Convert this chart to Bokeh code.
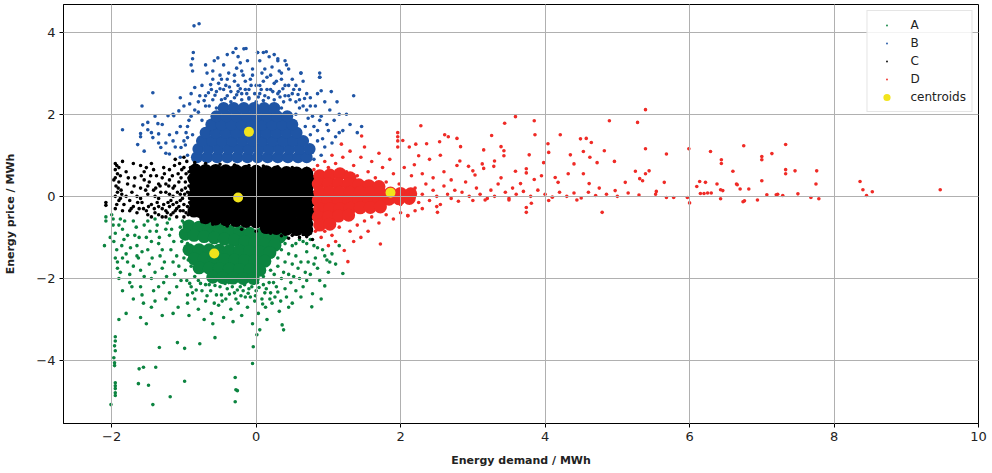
from bokeh.plotting import figure
from bokeh.models import FixedTicker, Legend, LegendItem, Range1d
from bokeh.embed import file_html
from bokeh.resources import INLINE

# ---------------- data ----------------
x_ticks = [-2, 0, 2, 4, 6, 8, 10]
x_tick_labels = ["\u22122", "0", "2", "4", "6", "8", "10"]
y_ticks = [-4, -2, 0, 2, 4]
y_tick_labels = ["\u22124", "\u22122", "0", "2", "4"]
cluster_names = ["A", "B", "C", "D"]

centroid_x = [-0.58, -0.10, -0.25, 1.86]
centroid_y = [-1.39, 1.57, -0.03, 0.09]

# densest part of each cluster
A_core = [(-0.93,-0.72),(-0.79,-0.75),(-0.65,-0.78),(-0.51,-0.81),(-0.37,-0.84),(-0.23,-0.87),(-0.09,-0.9),(0.05,-0.93),(0.19,-0.96),(0.33,-0.99),
          (-0.98,-0.92),(-0.86,-0.95),(-0.72,-0.98),(-0.58,-1.01),(-0.44,-1.04),(-0.3,-1.07),(-0.16,-1.1),(-0.02,-1.13),(0.12,-1.16),(0.26,-1.19),
          (-0.93,-1.3),(-0.79,-1.3),(-0.65,-1.3),(-0.51,-1.31),(-0.37,-1.32),(-0.23,-1.33),(-0.09,-1.34),(0.05,-1.35),(0.19,-1.37),
          (-0.86,-1.52),(-0.72,-1.52),(-0.58,-1.53),(-0.44,-1.54),(-0.3,-1.55),(-0.16,-1.56),(-0.02,-1.57),(0.12,-1.58),
          (-0.79,-1.74),(-0.65,-1.75),(-0.51,-1.76),(-0.37,-1.77),(-0.23,-1.78),(-0.09,-1.79),(0.05,-1.8),
          (-0.6,-1.97),(-0.46,-1.98),(-0.32,-1.99),(-0.18,-2.0),(-0.04,-2.0)]
B_core = [(-0.82,0.95),(-0.68,0.95),(-0.54,0.95),(-0.4,0.95),(-0.26,0.95),(-0.12,0.95),(0.02,0.95),(0.16,0.95),(0.3,0.95),(0.44,0.95),(0.58,0.95),(0.7,0.95),
          (-0.8,1.15),(-0.66,1.15),(-0.52,1.15),(-0.38,1.15),(-0.24,1.15),(-0.1,1.15),(0.04,1.15),(0.18,1.15),(0.32,1.15),(0.46,1.15),(0.6,1.15),(0.74,1.15),
          (-0.75,1.35),(-0.61,1.35),(-0.47,1.35),(-0.33,1.35),(-0.19,1.35),(-0.05,1.35),(0.09,1.35),(0.23,1.35),(0.37,1.35),(0.51,1.35),(0.65,1.35),
          (-0.7,1.55),(-0.56,1.55),(-0.42,1.55),(-0.28,1.55),(-0.14,1.55),(0.0,1.55),(0.14,1.55),(0.28,1.55),(0.42,1.55),(0.56,1.55),
          (-0.62,1.75),(-0.48,1.75),(-0.34,1.75),(-0.2,1.75),(-0.06,1.75),(0.08,1.75),(0.22,1.75),(0.36,1.75),(0.5,1.75),
          (-0.55,1.95),(-0.41,1.95),(-0.27,1.95),(-0.13,1.95),(0.01,1.95),(0.15,1.95),(0.29,1.95),(0.43,1.95),
          (-0.45,2.15),(-0.31,2.15),(-0.17,2.15),(-0.03,2.15),(0.11,2.15),(0.25,2.15)]
C_core = [(-0.84,0.64),(-0.7,0.63),(-0.56,0.63),(-0.42,0.62),(-0.28,0.62),(-0.14,0.61),(0.0,0.61),(0.14,0.6),(0.28,0.59),(0.42,0.58),(0.56,0.57),(0.7,0.56),
          (-0.86,0.43),(-0.77,0.42),(-0.63,0.42),(-0.49,0.42),(-0.35,0.42),(-0.21,0.41),(-0.07,0.41),(0.07,0.41),(0.21,0.4),(0.35,0.4),(0.49,0.39),(0.63,0.39),(0.76,0.38),
          (-0.84,0.22),(-0.7,0.22),(-0.56,0.22),(-0.42,0.22),(-0.28,0.21),(-0.14,0.21),(0.0,0.21),(0.14,0.2),(0.28,0.2),(0.42,0.2),(0.56,0.2),(0.7,0.19),
          (-0.86,0.02),(-0.77,0.02),(-0.63,0.02),(-0.49,0.02),(-0.35,0.01),(-0.21,0.01),(-0.07,0.01),(0.07,0.0),(0.21,0.0),(0.35,0.0),(0.49,0.0),(0.63,-0.01),(0.76,-0.01),
          (-0.84,-0.18),(-0.7,-0.18),(-0.56,-0.18),(-0.42,-0.19),(-0.28,-0.19),(-0.14,-0.19),(0.0,-0.2),(0.14,-0.2),(0.28,-0.2),(0.42,-0.21),(0.56,-0.21),(0.7,-0.21),
          (-0.86,-0.36),(-0.77,-0.37),(-0.63,-0.38),(-0.49,-0.39),(-0.35,-0.39),(-0.21,-0.4),(-0.07,-0.4),(0.07,-0.41),(0.21,-0.41),(0.35,-0.42),(0.49,-0.42),(0.63,-0.43),(0.76,-0.43),
          (-0.7,-0.52),(-0.56,-0.55),(-0.42,-0.57),(-0.28,-0.59),(-0.14,-0.61),(0.0,-0.62),(0.14,-0.63),(0.28,-0.64),(0.42,-0.65),(0.56,-0.66),(0.7,-0.67),
          (0.14,-0.76),(0.28,-0.78),(0.42,-0.8),(0.56,-0.81),(0.7,-0.82)]
D_core = [(0.88,0.5),(1.02,0.52),(1.16,0.55),(1.3,0.45),
          (0.86,0.3),(1.0,0.3),(1.14,0.31),(1.28,0.3),(1.42,0.28),(1.56,0.26),(1.7,0.24),
          (0.88,0.1),(1.02,0.1),(1.16,0.1),(1.3,0.1),(1.44,0.1),(1.58,0.09),(1.72,0.08),(1.86,0.08),(2.0,0.07),(2.14,0.06),
          (0.86,-0.1),(1.0,-0.1),(1.14,-0.1),(1.28,-0.1),(1.42,-0.1),(1.56,-0.09),(1.7,-0.08),(1.84,-0.07),(1.98,-0.06),(2.12,-0.05),
          (0.88,-0.3),(1.02,-0.3),(1.16,-0.3),(1.3,-0.29),(1.44,-0.28),(1.58,-0.27),(1.72,-0.26),
          (0.86,-0.5),(1.0,-0.5),(1.14,-0.48),(1.28,-0.46),
          (0.88,-0.7),(1.02,-0.68)]

# individual scattered points of each cluster
A_pts = [(-2.08,-0.5),(-2.08,-0.6),(-2.1,-1.2),(-2.0,-0.45),(-1.98,-0.7),(-1.95,-0.9),(-1.97,-1.1),(-1.93,-1.3),(-1.95,-1.5),(-1.92,-1.75),(-1.9,-2.0),
         (-1.88,-0.55),(-1.85,-0.8),(-1.83,-1.05),(-1.8,-1.4),(-1.78,-1.6),(-1.75,-1.9),(-1.72,-2.2),(-1.7,-0.6),(-1.68,-0.95),(-1.65,-1.2),(-1.63,-1.5),
         (-1.6,-1.8),(-1.58,-2.4),(-1.56,-2.6),(-1.55,-0.7),(-1.52,-1.0),(-1.5,-1.3),(-1.48,-1.65),(-1.45,-2.0),(-1.42,-2.3),(-1.4,-0.55),(-1.38,-0.85),
         (-1.35,-1.15),(-1.33,-1.45),(-1.3,-1.75),(-1.28,-2.1),(-1.25,-2.5),(-1.23,-0.65),(-1.2,-0.95),(-1.18,-1.3),(-1.15,-1.6),(-1.13,-1.9),(-1.1,-2.2),
         (-1.08,-2.7),(-1.05,-0.75),(-1.03,-1.1),(-1.0,-1.5),(-0.98,-1.8),(-0.96,-2.05),(-0.95,-2.4),(-0.93,-2.9),(-1.15,-2.85),(-1.3,-2.9),(-1.45,-2.7),
         (-1.7,-2.5),(-1.85,-2.3),(-1.6,-2.95),(-1.52,-3.1),(-1.8,-2.85),(-1.9,-3.0),
         (-1.95,-3.42),(-1.95,-3.52),(-1.96,-3.64),(-1.95,-3.76),(-1.97,-3.93),(-1.96,-4.05),(-1.96,-4.12),(-1.95,-4.54),(-1.95,-4.61),(-1.95,-4.68),
         (-1.95,-4.78),(-1.95,-4.85),(-2.01,-5.07),(-1.62,-4.2),(-1.56,-4.16),(-1.39,-4.16),(-1.63,-4.56),(-1.49,-4.6),(-1.43,-5.07),(-1.19,-4.88),
         (-0.99,-4.5),(-1.34,-3.68),(-1.09,-3.56),(-0.99,-3.7),(-0.78,-3.59),(-0.57,-3.44),(-0.29,-4.41),(-0.28,-4.71),(-0.26,-4.73),(-0.29,-5.0),
         (-0.05,-4.07),(-0.04,-3.66),(0.01,-3.37),
         (-0.9,-2.2),(-0.85,-2.5),(-0.8,-2.75),(-0.75,-2.3),(-0.72,-3.0),(-0.7,-2.55),(-0.65,-2.15),(-0.62,-2.85),(-0.6,-3.1),(-0.55,-2.4),(-0.52,-2.65),
         (-0.5,-2.2),(-0.45,-2.95),(-0.42,-2.5),(-0.4,-2.25),(-0.35,-2.75),(-0.32,-3.05),(-0.3,-2.35),(-0.25,-2.6),(-0.22,-2.2),(-0.2,-2.9),(-0.15,-2.45),
         (-0.12,-2.7),(-0.1,-2.25),(-0.05,-3.1),(-0.02,-2.55),(0.0,-2.3),(0.03,-2.85),(0.05,-3.25),(0.08,-2.5),(0.1,-2.15),(0.13,-2.7),(0.15,-3.0),
         (0.2,-2.35),(0.22,-2.6),(0.28,-2.2),(0.32,-2.8),(0.36,-3.13),(0.38,-3.25),(0.42,-2.45),(0.48,-2.1),(0.5,-2.6),
         (0.35,-1.3),(0.4,-1.6),(0.45,-1.9),(0.5,-1.2),(0.55,-1.45),(0.58,-1.75),(0.6,-2.0),(0.65,-2.2),(0.65,-1.1),(0.7,-1.35),(0.72,-1.6),(0.75,-1.9),
         (0.78,-2.37),(0.77,-2.69),(0.8,-1.2),(0.82,-1.5),(0.85,-1.75),(0.88,-2.05),(0.9,-2.5),(0.95,-2.18),(0.92,-1.3),(0.98,-1.55),(1.0,-1.85),
         (1.05,-1.4),(1.1,-1.65),(1.2,-1.88),(1.15,-1.2),(0.6,-1.05),(0.75,-1.05),(0.3,-1.7),(0.25,-1.9),(0.35,-2.0),
         (-1.0,-0.65),(-0.95,-1.15),(-0.9,-1.7),(-0.85,-1.95),(0.3,-1.5),(0.4,-1.15),(0.2,-1.8),(0.1,-1.95),(-0.3,-2.05),(-0.6,-2.0),(-0.8,-2.05),
         (-1.98,-0.55),(-1.9,-0.7),(-1.86,-1.2),(-1.82,-0.6),(-1.78,-0.95),(-1.74,-1.25),(-1.7,-1.7),(-1.66,-0.75),(-1.62,-1.0),(-1.58,-1.35),
         (-1.55,-1.95),(-1.5,-0.6),(-1.47,-0.85),(-1.44,-1.5),(-1.4,-1.85),(-1.37,-0.7),(-1.34,-1.0),(-1.3,-1.3),(-1.27,-1.6),(-1.24,-1.95),
         (-1.2,-0.55),(-1.17,-0.8),(-1.14,-1.1),(-1.1,-1.45),(-1.07,-1.7),(-1.04,-2.05),(-1.02,-0.6),(-0.99,-0.85),(-0.97,-1.3),(-0.94,-1.55),
         (-1.4,-2.55),(-1.2,-2.35),(-1.6,-2.2),(-1.75,-2.1),(-1.35,-2.2),(-1.92,-1.6),(-1.88,-1.85),(-2.02,-1.0),(-1.25,-0.8),(-1.45,-1.1),
         (-1.65,-1.45),(-1.85,-1.5),
         (-0.95,-2.6),(-0.88,-2.35),(-0.7,-2.15),(-0.58,-2.6),(-0.48,-2.4),(-0.38,-2.1),(-0.28,-2.5),(-0.18,-2.3),(-0.08,-2.45),(0.02,-2.1),
         (0.12,-2.35),(0.18,-2.1),(0.26,-2.45),(0.4,-2.25),(0.55,-2.3),(0.62,-1.6),(0.68,-1.85),(0.5,-1.65),(0.45,-1.4),(0.55,-1.15),(0.42,-1.0),
         (0.7,-1.15),(0.85,-1.25),(0.95,-1.45),
         (-0.92,-2.12),(-0.83,-2.28),(-0.77,-2.12),(-0.68,-2.42),(-0.63,-2.3),(-0.57,-2.17),(-0.47,-2.55),(-0.43,-2.12),(-0.37,-2.38),(-0.33,-2.2),
         (-0.26,-2.28),(-0.21,-2.42),(-0.16,-2.15),(-0.11,-2.36),(-0.06,-2.2),(-0.01,-2.42),(0.04,-2.22),(0.09,-2.62),(0.14,-2.25),(0.19,-2.5),
         (0.24,-2.1),(0.3,-2.33),(0.34,-2.55),(0.38,-1.85),(0.45,-2.7),(0.52,-1.95),(0.62,-2.45),(0.7,-2.05),(0.8,-1.65),(1.02,-1.6)]
B_pts = [(-0.86,4.15),(-0.79,4.2),(-1.43,2.52),(-1.58,2.2),(-1.85,1.62),(-1.6,1.45),(-1.55,1.1),(-1.45,1.55),(-1.4,1.95),(-1.35,1.3),(-1.3,1.75),
         (-1.25,1.05),(-1.2,1.5),(-1.15,2.0),(-1.12,1.2),(-1.05,1.7),(-1.0,2.2),(-1.0,1.35),(-0.95,1.0),(-0.93,1.85),(-0.9,2.5),(-0.88,1.5),
         (-0.8,2.3),(-0.75,2.7),(-0.7,2.45),(-0.68,3.0),(-0.65,2.2),(-0.6,2.85),(-0.58,3.3),(-0.55,2.55),(-0.5,2.95),(-0.48,2.35),(-0.45,3.2),
         (-0.42,2.7),(-0.4,2.45),(-0.38,3.0),(-0.35,2.3),(-0.32,3.5),(-0.3,2.8),(-0.28,3.6),(-0.25,2.55),(-0.22,3.25),(-0.2,2.35),(-0.18,2.95),
         (-0.15,2.6),(-0.12,3.3),(-0.1,2.4),(-0.08,2.85),(-0.05,3.1),(-0.02,2.5),(0.0,2.3),(0.02,3.5),(0.05,2.7),(0.08,3.0),(0.1,3.5),(0.12,2.45),
         (0.15,2.9),(0.18,3.4),(0.2,2.6),(0.22,3.15),(0.25,2.35),(0.28,2.8),(0.3,3.3),(0.32,2.55),(0.35,3.0),(0.38,2.3),(0.4,2.7),(0.42,3.2),
         (0.45,2.45),(0.5,2.85),(0.55,2.3),(0.6,2.6),(0.62,3.0),(0.65,2.2),(0.7,2.5),(0.72,1.9),(0.75,2.2),(0.8,1.7),(0.85,2.5),(0.88,2.9),
         (0.88,3.0),(0.9,1.95),(0.95,2.3),(1.0,1.6),(1.04,2.55),(1.08,1.85),(1.12,2.3),(1.15,1.55),(1.2,1.6),(1.25,2.0),(1.3,1.75),(1.35,2.45),
         (1.46,1.7),(1.4,1.55),(0.95,1.2),(0.9,1.0),(0.85,1.35),(0.8,0.9),(1.05,1.3),
         (-0.87,3.5),(-0.88,3.35),(-0.9,3.2),(-0.88,3.05),(-0.53,3.37),(-0.17,3.59),(-0.14,3.6),(0.02,3.5),(0.14,3.52),(0.3,3.35),(0.4,3.3),
         (0.62,3.0),(0.88,2.9),(0.9,2.57),(-1.07,2.08),(-1.14,1.96),(-1.22,1.96),(-1.36,1.77),(-1.5,1.8),(-1.57,1.74),(-1.5,1.62),(-1.43,1.43),
         (-1.64,1.26),(-1.6,1.53),(-1.35,1.52),(-1.32,1.19),(-1.2,1.03),(-1.04,1.19),(-0.95,1.43),
         (-0.85,2.1),(-0.9,1.95),(-0.78,2.45),(-0.6,2.35),(-0.3,2.4),(-0.1,2.37),(0.1,2.33),(0.35,2.15),(0.55,2.0),(0.68,1.7),(0.75,1.5),
         (-0.85,2.65),(-0.8,2.05),(-0.75,1.85),(-0.7,2.2),(-0.62,2.6),(-0.55,2.15),(-0.52,2.75),(-0.45,2.6),(-0.4,2.85),(-0.35,2.55),(-0.3,2.95),
         (-0.25,2.7),(-0.2,3.05),(-0.15,2.8),(-0.1,2.6),(-0.05,2.95),(0.0,2.7),(0.05,2.5),(0.1,2.8),(0.15,2.6),(0.2,2.95),(0.25,2.75),(0.3,2.5),
         (0.35,2.85),(0.4,2.45),(0.45,2.7),(0.5,2.5),(0.55,2.7),(0.6,2.35),(0.65,2.8),(0.7,2.1),(0.75,2.4),(0.78,1.95),(0.82,2.2),(0.85,1.6),
         (0.88,1.85),(0.92,1.4),(0.98,1.75),(1.02,2.1),(1.1,1.45),(1.15,2.0),(-0.95,1.7),(-0.98,1.25),(-1.1,1.55),(-1.15,1.35),(-1.05,0.95),
         (-0.92,2.25),(-0.97,1.55),(-1.25,1.3),(-1.05,2.4),(-0.7,3.2),(-0.4,3.45),(0.25,3.45),(0.45,3.1),(-0.6,3.05),(-0.25,3.4),(0.05,3.3),
         (0.6,2.15),(-0.2,2.5),(0.3,2.2),
         (-0.72,2.33),(-0.66,2.52),(-0.57,2.46),(-0.5,2.62),(-0.43,2.38),(-0.37,2.66),(-0.27,2.47),(-0.22,2.62),(-0.13,2.5),(-0.07,2.7),
         (0.03,2.42),(0.07,2.6),(0.17,2.4),(0.23,2.55),(0.33,2.42),(0.37,2.62),(0.47,2.35),(0.52,2.6),(0.58,2.48),(0.67,2.38),(-0.48,2.85),
         (-0.27,3.12),(0.12,3.1),(0.32,3.05),(-0.63,2.72)]
C_pts = [(-1.95,0.8),(-1.93,0.75),(-1.95,0.65),(-1.92,0.55),(-1.95,0.45),(-1.9,0.35),(-1.94,0.25),(-1.92,0.1),(-1.95,0.0),(-1.9,-0.1),(-1.93,-0.2),
         (-1.95,-0.3),(-1.9,0.7),(-1.88,0.5),(-1.87,0.15),(-1.88,-0.05),(-2.08,-0.15),(-2.08,-0.22),(-1.85,0.85),(-1.8,0.6),
         (-1.78,0.3),(-1.75,-0.1),(-1.72,0.1),(-1.7,-0.25),(-1.68,0.45),(-1.65,0.0),(-1.62,-0.3),(-1.6,0.2),(-1.58,-0.15),(-1.55,0.6),(-1.52,-0.35),
         (-1.5,0.05),(-1.48,0.35),(-1.45,-0.2),(-1.42,0.15),(-1.4,-0.4),(-1.38,0.5),(-1.35,-0.05),(-1.33,0.25),(-1.3,-0.3),(-1.28,0.7),(-1.25,0.1),
         (-1.22,-0.15),(-1.2,0.4),(-1.18,-0.45),(-1.15,0.0),(-1.13,0.25),(-1.1,-0.3),(-1.08,0.55),(-1.05,-0.1),(-1.03,0.15),(-1.0,-0.5),(-0.98,0.35),
         (-0.96,0.85),(-0.95,-0.25),(-0.93,0.6),(-1.12,0.9),(-1.0,0.95),(-1.06,0.8),(-1.6,0.75),(-1.7,0.8),(-1.45,0.8),
         (-1.5,-0.45),(-1.45,-0.5),(-1.35,-0.45),(-1.3,-0.5),(-1.25,-0.35),(-1.2,-0.25),(-1.15,-0.4),(-1.1,-0.5),(-1.05,-0.35),(-1.0,-0.2),(-0.97,-0.4),
         (-0.95,0.1),(-0.92,-0.05),(-1.25,-0.5),(-1.1,-0.15),(-1.15,0.2),(-1.35,-0.25),(-1.4,0.0),(-1.2,0.05),(-1.05,0.05),(-0.98,0.2),(-0.93,0.45),
         (-1.0,0.7),(-1.2,0.65),(-1.3,0.45),(-1.55,0.4),(-1.65,-0.4),(-1.75,-0.35),(-1.85,-0.35),(-1.8,0.0),(-1.6,-0.05),(-1.5,0.25),(-1.35,0.3),
         (-1.25,0.3),(-1.15,-0.2),(-1.07,0.35),(-1.02,-0.05),
         (-1.97,0.4),(-1.91,0.2),(-1.86,0.05),(-1.83,-0.2),(-1.77,0.45),(-1.73,-0.3),(-1.69,0.25),(-1.64,-0.15),(-1.59,0.5),(-1.56,-0.3),(-1.53,0.15),
         (-1.49,-0.25),(-1.46,0.5),(-1.41,-0.3),(-1.39,0.2),(-1.37,-0.15),(-1.32,0.1),(-1.28,-0.2),(-1.27,0.55),(-1.23,-0.4),(-1.21,0.25),(-1.18,-0.1),
         (-1.16,0.5),(-1.12,-0.35),(-1.09,0.1),(-1.07,-0.25),(-1.04,0.45),(-1.01,-0.35),(-0.99,0.05),(-0.97,0.55),(-0.94,-0.45),(-0.93,0.25),
         (-0.92,-0.15),(-0.91,0.7),(-1.03,0.65),(-1.13,0.75),(-1.42,0.65),(-1.52,0.7),
         (0.0,-0.85),(0.1,-0.85),(0.2,-0.9),(0.3,-0.88),(0.4,-0.92),(0.5,-0.95),(0.6,-1.0),(0.7,-0.98),(0.78,-1.05),(0.55,-0.9),(0.65,-0.93),
         (-0.2,-0.8),(-0.4,-0.72),(-0.6,-0.68),(-0.75,-0.62),(0.35,-0.96),(0.45,-1.02),(0.75,-0.9),(0.82,-0.5),(0.82,0.2),(0.8,-0.2),
         (-0.85,0.82),(-0.7,0.8),(-0.5,0.78),(-0.3,0.76),(-0.1,0.75),(0.1,0.74),(0.3,0.72),(0.5,0.7),(0.7,0.68)]
D_pts = [(0.8,0.65),(0.85,0.75),(0.95,0.85),(1.0,0.7),(1.05,1.0),(1.1,0.8),(1.18,1.27),(1.2,0.95),(1.25,0.6),(1.3,1.1),(1.35,0.75),(1.4,0.5),
         (1.46,1.47),(1.45,0.95),(1.5,1.2),(1.55,0.6),(1.6,0.85),(1.65,0.45),(1.7,1.05),(1.75,0.7),(1.8,0.35),(1.85,0.9),(1.9,0.55),(1.96,1.55),
         (1.96,1.45),(1.96,1.35),(1.96,1.2),(2.03,1.36),(1.98,0.3),(2.05,0.7),
         (0.82,-0.85),(0.9,-1.0),(0.95,-0.85),(1.0,-1.2),(1.05,-0.95),(1.1,-1.1),(1.15,-0.75),(1.22,-1.32),(1.27,-1.59),(1.35,-1.1),(1.3,-0.85),
         (1.4,-0.7),(1.45,-1.0),(1.5,-0.6),(1.55,-0.85),(1.6,-0.5),(1.7,-0.65),(1.72,-1.16),(1.8,-0.45),(1.9,-0.55),(2.0,-0.4),(2.1,-0.47),(2.2,-0.35),
         (2.3,-0.3),(2.51,-0.39),
         (2.2,0.2),(2.25,-0.15),(2.3,0.05),(2.35,0.3),(2.4,-0.1),(2.45,0.15),(2.5,0.0),(2.55,-0.2),(2.6,0.25),(2.65,0.05),(2.7,-0.05),(2.75,0.15),
         (2.8,-0.12),(2.85,0.1),(2.9,0.35),(2.95,0.0),(3.0,-0.1),(3.05,0.2),(3.1,0.05),(3.2,-0.05),(3.25,0.15),(3.3,0.0),(3.35,0.3),(3.45,0.1),
         (3.5,-0.05),(3.55,0.2),(3.6,0.05),(3.7,0.12),(3.8,0.0),(3.9,0.15),(4.0,0.05),(4.1,-0.02),(4.2,0.1),(4.3,0.0),(4.4,0.08),(4.5,-0.04),
         (4.6,0.1),(4.7,0.02),(4.85,0.05),(5.0,0.0),(5.15,0.08),(5.3,0.03),(2.15,0.5),(2.3,0.55),(2.45,0.45),(2.6,0.6),(2.7,0.4),(2.4,0.9),(2.55,1.0),
         (2.5,-0.25),(2.0,-0.2),(2.1,0.1),(2.15,-0.1),
         (5.39,2.11),(3.59,1.94),(3.85,1.84),(3.44,1.78),(4.89,1.84),(5.28,1.8),(2.28,1.72),(2.61,1.5),(2.66,1.45),(2.78,1.41),(3.26,1.48),(3.86,1.5),
         (4.21,1.5),(4.49,1.4),(4.57,1.41),(4.64,1.31),(4.82,1.11),(5.39,1.16),(2.36,1.28),(2.54,1.33),(2.83,1.21),(3.15,1.13),(3.39,1.21),(3.43,1.11),
         (3.43,0.99),(4.04,1.28),(4.05,1.07),(3.78,1.01),(4.35,1.01),(4.53,1.09),(4.62,0.95),(4.72,0.82),(4.96,0.85),(5.25,0.61),(5.39,0.55),(5.35,0.38),
         (2.21,1.27),(2.12,1.2),(2.25,0.99),(2.19,0.77),(2.78,0.75),(2.82,0.86),(2.94,0.73),(3.0,0.62),(3.03,0.52),(3.13,0.79),(3.15,0.68),(3.3,0.86),
         (3.29,0.73),(3.39,0.45),(3.59,0.61),(3.66,0.31),(3.74,0.67),(3.74,0.57),(3.85,0.41),(3.95,0.5),(3.98,0.82),(4.14,0.46),(4.18,0.34),(4.32,0.55),
         (4.4,0.79),(4.53,0.55),(4.61,0.31),(4.75,0.2),(4.97,0.14),(5.11,0.34),(5.31,0.43),(3.74,-0.27),(3.74,-0.39),(3.81,-0.17),(4.79,-0.39),
         (4.44,-0.09),(4.05,-0.1),(3.5,-0.09),(3.17,-0.09),(2.1,-0.47),
         (5.68,1.03),(5.99,1.16),(6.29,1.09),(6.75,1.23),(7.33,1.26),(7.14,1.04),(7.0,0.97),(7.0,0.89),(6.44,0.89),(6.44,0.8),(6.6,0.61),(7.33,0.65),
         (7.33,0.55),(7.46,0.62),(7.76,0.62),(7.75,0.3),(5.44,0.62),(5.65,0.34),(5.54,0.12),(5.53,0.05),(5.68,-0.03),(5.78,-0.03),(5.97,-0.03),
         (6.0,-0.16),(6.1,0.24),(6.14,0.36),(6.22,0.34),(6.15,0.07),(6.2,0.07),(6.25,0.08),(6.3,0.08),(6.38,0.3),(6.43,0.16),(6.46,0.14),(6.43,-0.06),
         (6.65,0.3),(6.66,0.28),(6.7,0.18),(6.82,0.18),(6.74,-0.13),(6.76,-0.11),(6.94,-0.09),(7.0,0.38),(7.07,0.04),(7.2,0.04),(7.22,0.05),
         (7.29,0.02),(7.5,0.06),(7.68,-0.03),(7.79,-0.06),(8.36,0.36),(8.4,0.16),(8.45,0.02),(8.53,0.11),(9.47,0.16)]

# ---------------- styling ----------------
colors = {"A": "#0c8440", "B": "#1f55a5", "C": "#000000", "D": "#ef2b26"}
centroid_color = "#f2e41c"

p = figure(width=992, height=473, output_backend="svg", toolbar_location=None,
           x_range=Range1d(-2.667, 10.0), y_range=Range1d(-5.53, 4.67),
           min_border_left=63, min_border_right=14, min_border_top=4, min_border_bottom=50)

cores = {"A": A_core, "B": B_core, "C": C_core, "D": D_core}
pts = {"A": A_pts, "B": B_pts, "C": C_pts, "D": D_pts}
core_size = {"A": 13, "B": 12, "C": 13, "D": 13}
for name in cluster_names:
    cx, cy = zip(*cores[name])
    p.scatter(list(cx), list(cy), size=core_size[name], color=colors[name], line_color=None)
    sx, sy = zip(*pts[name])
    p.scatter(list(sx), list(sy), size=3.6, color=colors[name], line_color=None)

rc = p.scatter(centroid_x, centroid_y, size=10, color=centroid_color, line_color=None)

# hidden renderers whose only job is to give the legend a small dot per cluster
legend_renderers = {}
for i, name in enumerate(cluster_names):
    r = p.scatter([centroid_x[i]], [centroid_y[i]], marker="dot", size=10,
                  line_color=colors[name], fill_color=colors[name], line_width=2)
    r.visible = False
    legend_renderers[name] = r

items = [LegendItem(label=n, renderers=[legend_renderers[n]]) for n in cluster_names]
items.append(LegendItem(label="centroids", renderers=[rc]))
legend = Legend(items=items, location="top_right")
legend.border_line_color = "#cccccc"
legend.border_line_width = 1
legend.background_fill_alpha = 0.85
legend.inactive_fill_alpha = 0.0
legend.label_text_font = "DejaVu Sans"
legend.label_text_font_size = "12px"
legend.label_text_color = "#222222"
legend.glyph_width = 28
legend.glyph_height = 18
legend.label_height = 14
legend.spacing = 0
legend.padding = 5
legend.margin = 6
legend.label_standoff = 10
p.add_layout(legend)

p.xaxis.ticker = FixedTicker(ticks=x_ticks)
p.yaxis.ticker = FixedTicker(ticks=y_ticks)
p.xaxis.major_label_overrides = dict(zip(x_ticks, x_tick_labels))
p.yaxis.major_label_overrides = dict(zip(y_ticks, y_tick_labels))
p.xaxis.axis_label = "Energy demand / MWh"
p.yaxis.axis_label = "Energy price / MWh"
for ax in (p.xaxis, p.yaxis):
    ax.axis_label_text_font = "DejaVu Sans"
    ax.axis_label_text_font_style = "bold"
    ax.axis_label_text_font_size = "11px"
    ax.axis_label_text_color = "#222222"
    ax.major_label_text_font = "DejaVu Sans"
    ax.major_label_text_font_size = "13px"
    ax.major_label_text_color = "#222222"
    ax.axis_line_color = "black"
    ax.major_tick_line_color = "black"
    ax.major_tick_in = 0
    ax.major_tick_out = 4
    ax.minor_tick_line_color = None
    ax.major_label_standoff = 4
p.xaxis.axis_label_standoff = 10
p.yaxis.axis_label_standoff = 16

p.grid.grid_line_color = "#b0b0b0"
p.grid.grid_line_width = 1
p.grid.level = "guide"
p.outline_line_color = "black"
p.outline_line_width = 1
p.outline_line_alpha = 1.0
p.background_fill_color = "white"
p.border_fill_color = "white"

open("out.html", "w").write(file_html(p, INLINE))
